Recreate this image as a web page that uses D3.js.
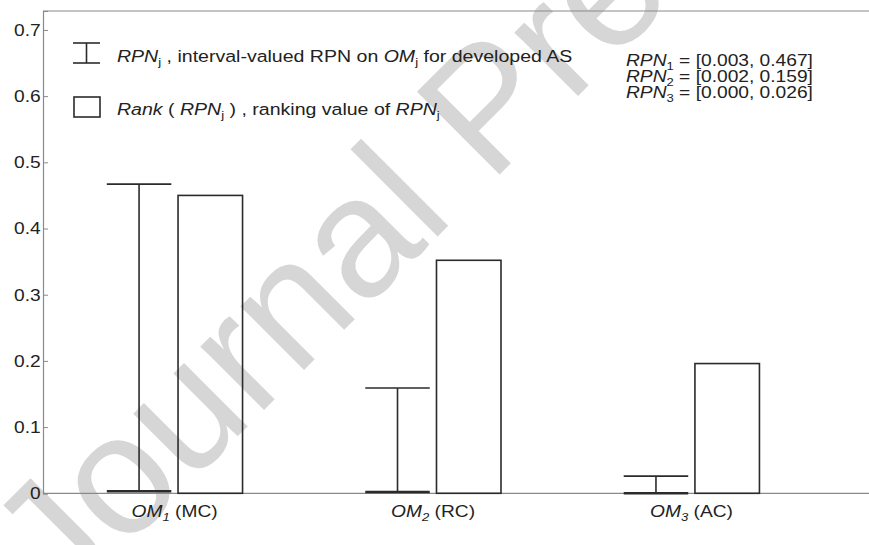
<!DOCTYPE html>
<html><head><meta charset="utf-8">
<script src="https://cdn.jsdelivr.net/npm/d3@7/dist/d3.min.js"></script>
<style>
body{margin:0;background:#fff;}
svg{display:block;font-family:"Liberation Sans",Arial,Helvetica,sans-serif;}
</style></head><body>
<svg id="chart" width="869" height="545"></svg>
<script>
// ---- data ----
const categories = ["MC", "RC", "AC"];
const omIndex = ["1", "2", "3"];
const rpnLower = [0.003, 0.002, 0.000];
const rpnUpper = [0.467, 0.159, 0.026];
const rankValues = [0.450, 0.352, 0.196];
const yTicks = [0, 0.1, 0.2, 0.3, 0.4, 0.5, 0.6, 0.7];
const rpnIntervalText = ["[0.003, 0.467]", "[0.002, 0.159]", "[0.000, 0.026]"];

// ---- layout ----
const W = 869, H = 545;
const FS = 17, SX = 1.13;
const INK = "#2b2b2b", AX = "#8a8a8a";
const svg = d3.select("#chart");

const x = d3.scaleLinear().domain([0.491, 3.687]).range([43, 869]);
const y = d3.scaleLinear().domain([0, 0.7286]).range([493.3, 11]);
const errOff = -0.1373, barOff = 0.1383, halfW = 0.1248;

// watermark
svg.append("text")
  .attr("transform", "translate(62,612) rotate(-45)")
  .attr("font-size", 170)
  .attr("fill", "#d6d6d6")
  .text("Journal Pre-proof");

// frame lines
svg.append("line").attr("x1", x.range()[0]).attr("x2", x.range()[1])
  .attr("y1", y(0)).attr("y2", y(0)).attr("stroke", AX).attr("stroke-width", 1.2);
svg.append("line").attr("x1", x.range()[0]).attr("x2", x.range()[1])
  .attr("y1", y.range()[1]).attr("y2", y.range()[1]).attr("stroke", AX).attr("stroke-width", 1.2);

// y axis
const gy = svg.append("g").attr("transform", `translate(${x.range()[0]},0)`)
  .call(d3.axisLeft(y).tickValues(yTicks).tickSize(-5).tickPadding(2)
    .tickFormat(d => d === 0 ? "0" : d3.format(".1f")(d)));
gy.select(".domain").attr("stroke", AX).attr("stroke-width", 1.2);
gy.selectAll(".tick line").attr("stroke", AX);
gy.selectAll(".tick text").attr("font-size", FS).attr("fill", "#222")
  .attr("font-family", "Liberation Sans, Arial, sans-serif")
  .attr("transform", `scale(${SX},1)`);

const idx = categories.map((c, i) => i);

// rank bars
svg.append("g").selectAll("rect").data(idx).join("rect")
  .attr("x", i => x(i + 1 + barOff - halfW))
  .attr("width", i => x(i + 1 + barOff + halfW) - x(i + 1 + barOff - halfW))
  .attr("y", i => y(rankValues[i]))
  .attr("height", i => y(0) - y(rankValues[i]))
  .attr("fill", "none").attr("stroke", INK).attr("stroke-width", 1.6);

// error bars
const ge = svg.append("g").attr("stroke", INK).attr("stroke-width", 1.6);
idx.forEach(i => {
  const cx = x(i + 1 + errOff), l = x(i + 1 + errOff - halfW), r = x(i + 1 + errOff + halfW);
  ge.append("line").attr("x1", cx).attr("x2", cx).attr("y1", y(rpnLower[i])).attr("y2", y(rpnUpper[i]));
  ge.append("line").attr("x1", l).attr("x2", r).attr("y1", y(rpnUpper[i])).attr("y2", y(rpnUpper[i]));
  ge.append("line").attr("x1", l).attr("x2", r).attr("y1", y(rpnLower[i])).attr("y2", y(rpnLower[i])).attr("stroke-width", 2.4);
});

// helper for rich text
function rich(tx, ty, parts, anchor, fs, sx) {
  fs = fs || FS; sx = sx || SX;
  const t = svg.append("text")
    .attr("transform", `translate(${tx},${ty}) scale(${sx},1)`)
    .attr("font-size", fs).attr("fill", "#222")
    .attr("text-anchor", anchor || "start");
  let shifted = false;
  parts.forEach(p => {
    const s = t.append("tspan").text(p.t);
    if (p.i) s.attr("font-style", "italic");
    if (p.sub) { s.attr("font-size", fs * 0.68).attr("dy", 4); shifted = true; }
    else if (shifted) { s.attr("dy", -4); shifted = false; }
  });
  return t;
}

// x labels
idx.forEach(i => {
  rich(x(i + 1), 517, [{t: "OM", i: 1}, {t: omIndex[i], sub: 1, i: 1}, {t: " (" + categories[i] + ")"}], "middle");
});

// legend
const lg = svg.append("g").attr("stroke", INK).attr("stroke-width", 1.6).attr("fill", "none");
lg.append("line").attr("x1", 86.5).attr("x2", 86.5).attr("y1", 43).attr("y2", 63);
lg.append("line").attr("x1", 73).attr("x2", 100).attr("y1", 43).attr("y2", 43);
lg.append("line").attr("x1", 73).attr("x2", 100).attr("y1", 63).attr("y2", 63);
lg.append("rect").attr("x", 74).attr("y", 97).attr("width", 26).attr("height", 20);

rich(117, 62, [{t: "RPN", i: 1}, {t: "j", sub: 1}, {t: " , interval-valued RPN on "}, {t: "OM", i: 1}, {t: "j", sub: 1}, {t: " for developed AS"}], "start", 17, 1.15);
rich(117, 115, [{t: "Rank", i: 1}, {t: " ( "}, {t: "RPN", i: 1}, {t: "j", sub: 1}, {t: " ) , ranking value of "}, {t: "RPN", i: 1}, {t: "j", sub: 1}], "start", 17, 1.15);

// interval annotations
idx.forEach(i => {
  rich(626, 66 + 16 * i, [{t: "RPN", i: 1}, {t: omIndex[i], sub: 1}, {t: " = " + rpnIntervalText[i]}], "start", 16, 1.2);
});
</script>
</body></html>
